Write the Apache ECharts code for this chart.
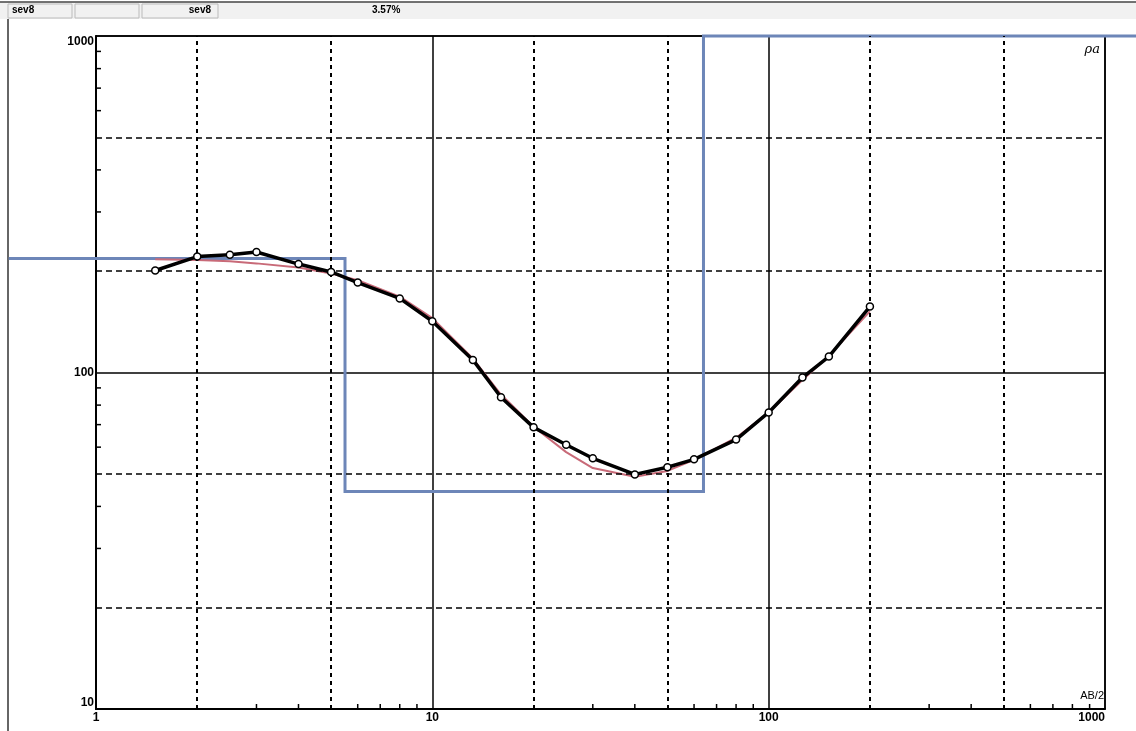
<!DOCTYPE html>
<html>
<head>
<meta charset="utf-8">
<title>sev8</title>
<script src="https://cdn.jsdelivr.net/npm/echarts@6/dist/echarts.min.js"></script>
<style>
  html, body { margin: 0; padding: 0; background: #fff; }
  #chart { width: 1136px; height: 731px; }
</style>
</head>
<body>
<div id="chart"></div>
<script>
// Sounding sev8: AB/2 (m) against apparent resistivity (ohm·m)
const abscissa   = [1.5, 2, 2.5, 3, 4, 5, 6, 8, 10, 13.2, 16, 20, 25, 30, 40, 50, 60, 80, 100, 126, 151, 200];
const measured   = [201, 221, 224, 228, 210, 199, 185, 166, 142, 109, 84.4, 68.7, 61, 55.6, 49.8, 52.3, 55.2, 63.2, 76.1, 96.6, 111.5, 157];
const calculated = [217, 216, 214, 211, 205, 197, 188, 168, 145, 110, 86, 69, 58, 52, 49, 51, 55, 64, 76, 95, 112, 152];

// Layered model: resistivities and layer bottoms
const layerRho   = [218, 44.3, 1000];
const layerDepth = [5.5, 64];
const modelFrom  = 0.55;
const modelTo    = 1300;

// Axis ticks
const xMinorTicks = [3, 4, 6, 7, 8, 9, 30, 40, 60, 70, 80, 90, 300, 400, 600, 700, 800, 900];
const yMinorTicks = [30, 40, 60, 70, 80, 90, 300, 400, 600, 700, 800, 900];
const xDashed = [2, 5, 20, 50, 200, 500];
const yDashed = [20, 50, 200, 500];

const header = ['sev8', 'sev8', '3.57%'];

// step polyline of the layered model
const model = [];
let x0 = modelFrom;
layerRho.forEach((rho, i) => {
  const x1 = i < layerDepth.length ? layerDepth[i] : modelTo;
  model.push([x0, rho], [x1, rho]);
  x0 = x1;
});

const pair = (xs, ys) => xs.map((x, i) => [x, ys[i]]);

const FONT = '"Liberation Sans Narrow", "Liberation Sans", Arial, sans-serif';
const chart = echarts.init(document.getElementById('chart'), null, { renderer: 'canvas' });

// Maps a data point through the axis scales, also beyond the axis range,
// by extending the log scale measured from two in-range decades.
function logCoord(api, x, y) {
  const a = api.coord([1, 10]);
  const b = api.coord([10, 100]);
  return [a[0] + (b[0] - a[0]) * Math.log10(x), a[1] + (b[1] - a[1]) * (Math.log10(y) - 1)];
}

chart.setOption({
  animation: false,
  backgroundColor: '#ffffff',
  grid: { left: 96, right: 31, top: 36, bottom: 22, show: true, borderColor: '#000', borderWidth: 1.5, backgroundColor: 'transparent' },
  xAxis: {
    type: 'log', logBase: 10, min: 1, max: 1000,
    axisLine: { show: true, onZero: false, lineStyle: { color: '#000', width: 2 } },
    axisTick: { show: false },
    axisLabel: { color: '#000', fontFamily: FONT, fontWeight: 'bold', fontSize: 12, margin: 3, alignMaxLabel: 'right',
      formatter: v => String(v) },
    splitLine: { show: true, lineStyle: { color: '#000', width: 1.5 } }
  },
  yAxis: {
    type: 'log', logBase: 10, min: 10, max: 1000,
    axisLine: { show: true, onZero: false, lineStyle: { color: '#000', width: 2 } },
    axisTick: { show: false },
    axisLabel: { color: '#000', fontFamily: FONT, fontWeight: 'bold', fontSize: 12, margin: 2,
      verticalAlignMaxLabel: 'top', verticalAlignMinLabel: 'bottom', formatter: v => String(v) },
    splitLine: { show: true, lineStyle: { color: '#000', width: 1.5 } }
  },
  graphic: [
    { type: 'rect', shape: { x: 0, y: 2, width: 1136, height: 17 }, style: { fill: '#f1f1f1', stroke: null }, silent: true },
    { type: 'line', shape: { x1: 0, y1: 2, x2: 1136, y2: 2 }, style: { stroke: '#444', lineWidth: 1.5 } },
    { type: 'rect', shape: { x: 8, y: 4, width: 64, height: 14 }, style: { fill: 'none', stroke: '#bbb', lineWidth: 1 } },
    { type: 'rect', shape: { x: 75, y: 4, width: 64, height: 14 }, style: { fill: 'none', stroke: '#bbb', lineWidth: 1 } },
    { type: 'rect', shape: { x: 142, y: 4, width: 76, height: 14 }, style: { fill: 'none', stroke: '#bbb', lineWidth: 1 } },
    { type: 'text', left: 12, top: 5, style: { text: header[0], fill: '#000', font: 'bold 10px ' + FONT } },
    { type: 'text', right: 1136 - 211, top: 5, style: { text: header[1], fill: '#000', font: 'bold 10px ' + FONT, align: 'right' } },
    { type: 'text', left: 372, top: 5, style: { text: header[2], fill: '#000', font: 'bold 10px ' + FONT } },
    { type: 'line', shape: { x1: 8, y1: 19, x2: 8, y2: 731 }, style: { stroke: '#333', lineWidth: 1.5 } },
    { type: 'text', right: 36, top: 43, style: { text: 'ρa', fill: '#000', font: 'italic 13px "DejaVu Serif", serif' } },
    { type: 'text', right: 32, top: 690, style: { text: 'AB/2', fill: '#000', font: '11px ' + FONT } }
  ],
  series: [
    {
      name: 'grid-dashes', type: 'line', data: [], silent: true,
      markLine: {
        silent: true, symbol: 'none', label: { show: false }, animation: false,
        data: [
          ...xDashed.map(v => ({ xAxis: v, lineStyle: { color: '#000', width: 2, type: [4, 4] } })),
          ...yDashed.map(v => ({ yAxis: v, lineStyle: { color: '#000', width: 1.5, type: [6, 4] } }))
        ]
      }
    },
    {
      name: 'minor-ticks', type: 'custom', silent: true, clip: false,
      data: [...xMinorTicks.map(v => [v, 10, 0]), ...yMinorTicks.map(v => [1, v, 1])],
      renderItem: (params, api) => {
        const p = api.coord([api.value(0), api.value(1)]);
        const vertical = api.value(2) === 0;
        return {
          type: 'line',
          shape: vertical ? { x1: p[0], y1: p[1], x2: p[0], y2: p[1] - 5 } : { x1: p[0], y1: p[1], x2: p[0] + 5, y2: p[1] },
          style: { stroke: '#000', lineWidth: 1.5 }
        };
      }
    },
    {
      name: 'model', type: 'custom', silent: true, clip: false, z: 3,
      data: [0],
      renderItem: (params, api) => ({
        type: 'polyline',
        shape: { points: model.map(d => logCoord(api, d[0], d[1])) },
        style: { stroke: '#6d86b8', lineWidth: 3, fill: null }
      })
    },
    {
      name: 'calculated', type: 'line', data: pair(abscissa, calculated), showSymbol: false, z: 4,
      lineStyle: { color: '#c86a78', width: 2 }
    },
    {
      name: 'measured', type: 'line', data: pair(abscissa, measured), z: 5,
      symbol: 'circle', symbolSize: 7, showSymbol: true,
      lineStyle: { color: '#000', width: 3.5 },
      itemStyle: { color: '#fff', borderColor: '#000', borderWidth: 1.5 }
    }
  ]
});
</script>
</body>
</html>
